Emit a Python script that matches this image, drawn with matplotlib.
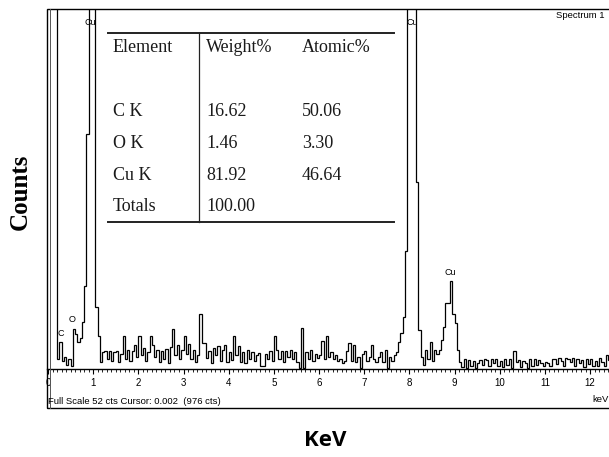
import numpy as np
import matplotlib
matplotlib.use("Agg")
import matplotlib.pyplot as plt
from matplotlib.patches import Rectangle
from matplotlib.lines import Line2D
from matplotlib.ticker import MultipleLocator

# EDS spectrum, counts per 0.05 keV channel
bin_width = 0.05
counts_0 = [80, 80, 80, 80, 1.5, 3.9, 1.2, 1.8, 0.6, 1.5, 0.5, 5.8, 5.0, 3.9, 4.5, 6.8, 12, 34, 200, 200]
counts_1 = [200, 9, 4.8, 1.0, 2.5, 2.6, 1.5, 2.6, 1.2, 2.5, 2.6, 1.0, 2.2, 4.8, 1.5, 2.8, 1.1, 2.6, 3.5, 1.8]
counts_2 = [4.8, 2.0, 3.0, 1.2, 2.5, 4.8, 3.5, 1.8, 2.8, 1.0, 2.6, 1.5, 2.9, 0.8, 3.2, 5.8, 2.0, 3.5, 1.5, 2.8]
counts_3 = [4.7, 2.2, 3.6, 1.4, 2.8, 1.0, 2.0, 7.9, 3.8, 3.8, 1.6, 2.6, 0.9, 3.0, 2.0, 3.3, 1.2, 2.8, 3.4, 1.0]
counts_4 = [2.5, 1.3, 4.8, 2.0, 3.3, 1.0, 2.4, 0.9, 2.7, 1.5, 2.4, 1.2, 2.0, 2.3, 0.5, 0.5, 2.2, 1.4, 2.6, 1.1]
counts_5 = [4.8, 2.8, 1.5, 2.6, 1.0, 2.6, 1.8, 2.8, 1.4, 2.5, 1.0, 0.1, 5.9, 0.1, 2.4, 1.5, 2.8, 1.2, 2.2, 1.6]
counts_6 = [2.0, 4.0, 1.5, 4.8, 1.8, 2.5, 1.4, 2.0, 1.2, 1.5, 0.8, 1.2, 2.6, 3.7, 1.2, 3.5, 1.0, 1.8, 0.1, 2.2]
counts_7 = [2.6, 1.2, 1.8, 3.5, 1.5, 1.0, 1.8, 2.4, 1.0, 2.7, 0.1, 1.8, 1.2, 2.0, 2.5, 3.9, 5.2, 7.5, 17, 200]
counts_8 = [200, 200, 60, 27, 5.6, 1.7, 0.6, 2.7, 1.5, 3.9, 1.2, 2.7, 2.2, 2.7, 4.2, 6.1, 9.5, 9.5, 12.7, 8.0]
counts_9 = [6.6, 2.7, 1.0, 0.3, 1.4, 0.2, 1.3, 0.4, 1.2, 0.1, 0.8, 1.3, 0.6, 1.4, 1.3, 0.5, 1.4, 0.8, 1.5, 0.4]
counts_10 = [1.2, 0.3, 1.5, 0.6, 1.4, 0.2, 2.6, 1.0, 1.3, 0.3, 1.2, 0.8, 0.2, 1.4, 0.5, 1.5, 0.6, 1.3, 0.9, 0.4]
counts_11 = [1.0, 0.8, 0.5, 1.5, 1.4, 0.7, 1.6, 1.2, 0.5, 1.6, 1.4, 1.0, 1.6, 0.5, 1.5, 0.8, 1.3, 0.3, 1.5, 0.7]
counts_12 = [1.4, 0.5, 1.2, 0.4, 1.6, 1.0, 0.5, 2.0, 1.3, 0.8]

# peak labels: text, energy (keV), counts
peak_labels = ['Cu', 'Cu', 'Cu', 'C', 'O']
peak_kev = [0.93, 8.06, 8.90, 0.29, 0.54]
peak_cts = [50.1, 50.1, 14.0, 5.2, 7.1]

# quantification table
elements = ['Element', '', 'C K', 'O K', 'Cu K', 'Totals']
weight = ['Weight%', '', '16.62', '1.46', '81.92', '100.00']
atomic = ['Atomic%', '', '50.06', '3.30', '46.64', '']

x_ticks = list(range(13))

counts = np.array(counts_0 + counts_1 + counts_2 + counts_3 + counts_4 + counts_5 + counts_6
                  + counts_7 + counts_8 + counts_9 + counts_10 + counts_11 + counts_12)
edges = np.arange(len(counts) + 1) * bin_width

W, H = 609, 457


def fx(px):
    return px / W


def fy(py):
    return 1 - py / H


fig = plt.figure(figsize=(W / 100, H / 100), dpi=100)

# spectrum area, x = 0 keV sits at pixel 48, 45.17 px per keV
px_per_kev = 45.17
ax = fig.add_axes([fx(47), fy(369), (700 - 47) / W, (369 - 9) / H])
ax.set_xlim((47 - 48) / px_per_kev, (700 - 48) / px_per_kev)
ax.set_ylim(0, 52)
ax.patch.set_alpha(0)
ax.stairs(counts, edges, color='black', linewidth=0.9, baseline=None)

for s in ['top', 'right', 'left']:
    ax.spines[s].set_visible(False)
ax.spines['bottom'].set_linewidth(1.0)
ax.set_yticks([])
ax.set_xticks(x_ticks)
ax.xaxis.set_minor_locator(MultipleLocator(0.1))
ax.tick_params(axis='x', which='major', direction='out', length=3.5, width=0.8,
               pad=3, labelsize=7)
ax.tick_params(axis='x', which='minor', direction='out', length=2, width=0.6)
for lab in ax.get_xticklabels():
    lab.set_fontfamily('Liberation Sans')

for t, xk, yc in zip(peak_labels, peak_kev, peak_cts):
    ax.text(xk, yc, t, ha='center', va='center', fontsize=6.5, family='Liberation Sans')

# outer frame (double line on the left)
fig.add_artist(Rectangle((fx(47), fy(408)), (700 - 47) / W, (408 - 9) / H,
                         transform=fig.transFigure, fill=False, lw=1.0, ec='black'))
fig.add_artist(Line2D([fx(49.5), fx(49.5)], [fy(9), fy(408)], transform=fig.transFigure,
                      lw=0.7, color='#555555'))

fig.text(fx(604), fy(16), 'Spectrum 1', ha='right', va='center', fontsize=6.8,
         family='Liberation Sans')
fig.text(fx(48), fy(401), 'Full Scale 52 cts Cursor: 0.002  (976 cts)', ha='left',
         va='center', fontsize=6.8, family='Liberation Sans')
fig.text(fx(592), fy(399), 'keV', ha='left', va='center', fontsize=6.8,
         family='Liberation Sans')

# table
fig.add_artist(Line2D([fx(108), fx(394)], [fy(33), fy(33)], transform=fig.transFigure,
                      lw=1.4, color='#222222'))
fig.add_artist(Line2D([fx(108), fx(394)], [fy(222), fy(222)], transform=fig.transFigure,
                      lw=1.4, color='#222222'))
fig.add_artist(Line2D([fx(199), fx(199)], [fy(33), fy(222)], transform=fig.transFigure,
                      lw=0.9, color='#222222'))
row_y = [48, 80, 112, 143, 175, 206]
for i, yy in enumerate(row_y):
    for xx, col in zip([113, 206, 302], [elements, weight, atomic]):
        if col[i]:
            fig.text(fx(xx), fy(yy), col[i], ha='left', va='center', fontsize=13,
                     family='Liberation Serif', color='#1a1a1a')

fig.text(fx(20), fy(192), 'Counts', rotation=90, ha='center', va='center',
         fontsize=18, fontweight='bold', family='Liberation Serif')
fig.text(fx(325), fy(440), 'KeV', ha='center', va='center', fontsize=16,
         fontweight='bold', family='Open Sans')

fig.savefig('out.png', dpi=100)
